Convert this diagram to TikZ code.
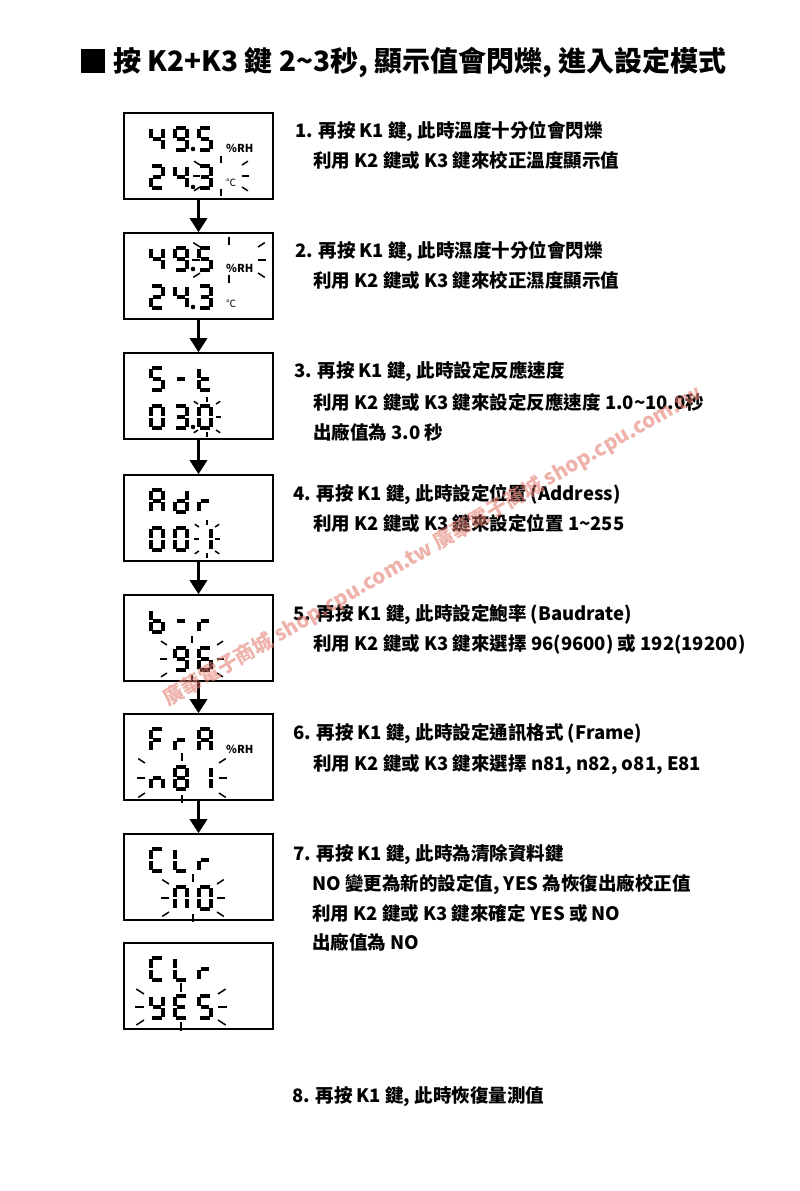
\documentclass[tikz,border=0pt]{standalone}
\usepackage{fontspec}
\setmainfont{Noto Sans CJK TC}
\usetikzlibrary{arrows.meta}
\definecolor{wmred}{RGB}{228,128,116}
\def\sga{(3.3,2)--(12.7,2)}
\def\sgb{(14,3.3)--(14,12.2)}
\def\sgc{(14,13.8)--(14,22.7)}
\def\sgd{(3.3,24)--(12.7,24)}
\def\sge{(2,13.8)--(2,22.7)}
\def\sgf{(2,3.3)--(2,12.2)}
\def\sgg{(3.6,13)--(12.4,13)}
\newcommand\seven[3]{%
  \begin{scope}[shift={(#1,#2)}]
    \foreach \s in {#3}{\draw[segline] \csname sg\s\endcsname;}
  \end{scope}}
\newcommand\blink[6]{%
  \foreach \dx/\dy in {#6}{\draw[ray] (#1+\dx*#3,#2+\dy*#4) -- ++(\dx*#5,\dy*#5);}
  \foreach \dx/\dy in {1/1,1/-1,-1/1,-1/-1}{\draw[ray] (#1+\dx*#3,#2+\dy*#4-\dy*2) -- ++(\dx*#5*0.85,\dy*#5*0.55);}}
\tikzset{
  lcd/.style={draw, line width=1.6pt, minimum width=149pt, minimum height=86pt, inner sep=0pt},
  flow/.style={line width=3pt, -{Triangle[width=17pt,length=14pt]}},
  segline/.style={line width=4pt},
  ray/.style={line width=1.5pt},
  itemtext/.style={anchor=base west, inner sep=0pt, font=\fontsize{18.5}{22}\selectfont\bfseries},
  unit/.style={inner sep=0pt, font=\fontsize{11}{13}\selectfont\bfseries},
  dotpt/.style={fill, circle, inner sep=0pt, minimum size=4.6pt},
}
\begin{document}
\begin{tikzpicture}[x=1pt,y=-1pt]
\useasboundingbox[fill=white] (0,0) rectangle (800,1191);
% title
\node[fill=black, minimum size=24pt, inner sep=0pt] (sq) at (93,60.5) {};
\node[anchor=base west, inner sep=0pt, font=\fontsize{28}{32}\selectfont\bfseries] (title) at (113,71) {按 K2+K3 鍵 2\textasciitilde3秒, 顯示值會閃爍, 進入設定模式};
% boxes
\node[lcd] (b1) at (198.5,156) {};
\node[lcd] (b2) at (198.5,276) {};
\node[lcd] (b3) at (198.5,396) {};
\node[lcd] (b4) at (198.5,518) {};
\node[lcd] (b5) at (198.5,638) {};
\node[lcd] (b6) at (198.5,757) {};
\node[lcd] (b7) at (198.5,877) {};
\node[lcd] (b8) at (198.5,986) {};
\draw[flow] (b1.south) -- (b2.north);
\draw[flow] (b2.south) -- (b3.north);
\draw[flow] (b3.south) -- (b4.north);
\draw[flow] (b4.south) -- (b5.north);
\draw[flow] (b5.south) -- (b6.north);
\draw[flow] (b6.south) -- (b7.north);
% box 1
\seven{149}{126}{b,c,f,g}\seven{173}{126}{a,b,c,d,f,g}\seven{197}{126}{a,c,d,f,g}
\seven{149}{164}{a,b,d,e,g}\seven{173}{164}{b,c,f,g}\seven{197}{164}{a,b,c,d,g}
\node[dotpt] (d1a) at (193,149) {};
\node[dotpt] (d1b) at (193,187) {};
\node[unit, anchor=base west] (rh1) at (226,152) {\%RH};
\node[unit, font=\fontsize{10}{11}\selectfont] (c1) at (231,183) {℃};
\blink{221}{176}{21}{13}{7}{1/0,-1/0,0/1,0/-1}
% box 2
\seven{149}{246}{b,c,f,g}\seven{173}{246}{a,b,c,d,f,g}\seven{197}{246}{a,c,d,f,g}
\seven{149}{284}{a,b,d,e,g}\seven{173}{284}{b,c,f,g}\seven{197}{284}{a,b,c,d,g}
\node[dotpt] (d2a) at (193,269) {};
\node[dotpt] (d2b) at (193,307) {};
\node[unit, anchor=base west] (rh2) at (226,272) {\%RH};
\node[unit, font=\fontsize{10}{11}\selectfont] (c2) at (231,304) {℃};
\blink{229}{260}{29}{15}{8}{1/0,-1/0,0/1,0/-1}
% box 3
\seven{149}{366}{a,c,d,f,g}\seven{173}{366}{g}\seven{197}{366}{d,e,f,g}
\seven{149}{404}{a,b,c,d,e,f}\seven{173}{404}{a,b,c,d,g}\seven{197}{404}{a,b,c,d,e,f}
\node[dotpt] (d3) at (193,427) {};
\blink{207}{417}{9}{15}{5}{1/0,0/1,0/-1}
% box 4
\seven{149}{488}{a,b,c,e,f,g}\seven{173}{488}{b,c,d,e,g}\seven{197}{488}{e,g}
\seven{149}{526}{a,b,c,d,e,f}\seven{173}{526}{a,b,c,d,e,f}\seven{197}{526}{b,c}
\blink{207}{539}{8}{14}{5}{1/0,-1/0,0/1,0/-1}
% box 5
\seven{149}{608}{c,d,e,f,g}\seven{173}{608}{g}\seven{197}{608}{e,g}
\seven{173}{646}{a,b,c,d,f,g}\seven{197}{646}{a,c,d,e,f,g}
\blink{192}{659}{25}{16}{7}{1/0,-1/0,0/1,0/-1}
% box 6
\seven{149}{727}{a,e,f,g}\seven{173}{727}{e,g}\seven{197}{727}{a,b,c,e,f,g}
\seven{149}{765}{c,e,g}\seven{173}{765}{a,b,c,d,e,f,g}\seven{197}{765}{b,c}
\node[unit, anchor=base west] (rh6) at (226,753) {\%RH};
\blink{182}{778}{37}{17}{8}{1/0,-1/0,0/1,0/-1}
% box 7
\seven{149}{847}{a,d,e,f}\seven{173}{847}{d,e,f}\seven{197}{847}{e,g}
\seven{173}{885}{a,b,c,e,f}\seven{197}{885}{a,b,c,d,e,f}
\blink{193}{898}{24}{16}{8}{1/0,-1/0,0/1,0/-1}
% box 8
\seven{149}{956}{a,d,e,f}\seven{173}{956}{d,e,f}\seven{197}{956}{e,g}
\seven{149}{994}{b,c,d,f,g}\seven{173}{994}{a,d,e,f,g}\seven{197}{994}{a,c,d,f,g}
\blink{181}{1007}{37}{15}{9}{1/0,-1/0,0/1,0/-1}
% texts
\node[itemtext] (i1a) at (295,137) {1. 再按 K1 鍵, 此時溫度十分位會閃爍};
\node[itemtext] (i1b) at (313,167) {利用 K2 鍵或 K3 鍵來校正溫度顯示值};
\node[itemtext] (i2a) at (295,257) {2. 再按 K1 鍵, 此時濕度十分位會閃爍};
\node[itemtext] (i2b) at (313,287) {利用 K2 鍵或 K3 鍵來校正濕度顯示值};
\node[itemtext] (i3a) at (294,377) {3. 再按 K1 鍵, 此時設定反應速度};
\node[itemtext] (i3b) at (313,409) {利用 K2 鍵或 K3 鍵來設定反應速度 1.0\textasciitilde10.0秒};
\node[itemtext] (i3c) at (313,439) {出廠值為 3.0 秒};
\node[itemtext] (i4a) at (293,500) {4. 再按 K1 鍵, 此時設定位置 (Address)};
\node[itemtext] (i4b) at (313,530) {利用 K2 鍵或 K3 鍵來設定位置 1\textasciitilde255};
\node[itemtext] (i5a) at (293,620) {5. 再按 K1 鍵, 此時設定鮑率 (Baudrate)};
\node[itemtext] (i5b) at (313,650) {利用 K2 鍵或 K3 鍵來選擇 96(9600) 或 192(19200)};
\node[itemtext] (i6a) at (293,739) {6. 再按 K1 鍵, 此時設定通訊格式 (Frame)};
\node[itemtext] (i6b) at (313,770) {利用 K2 鍵或 K3 鍵來選擇 n81, n82, o81, E81};
\node[itemtext] (i7a) at (293,860) {7. 再按 K1 鍵, 此時為清除資料鍵};
\node[itemtext] (i7b) at (312,890) {NO 變更為新的設定值, YES 為恢復出廠校正值};
\node[itemtext] (i7c) at (312,920) {利用 K2 鍵或 K3 鍵來確定 YES 或 NO};
\node[itemtext] (i7d) at (312,949) {出廠值為 NO};
\node[itemtext] (i8) at (292,1102) {8. 再按 K1 鍵, 此時恢復量測值};
% watermark
\node[rotate=30, text=wmred, opacity=0.6, inner sep=0pt, font=\fontsize{20.5}{24}\selectfont\bfseries] (wm) at (433,546) {廣華電子商城 shop.cpu.com.tw 廣華電子商城 shop.cpu.com.tw};
\end{tikzpicture}
\end{document}
